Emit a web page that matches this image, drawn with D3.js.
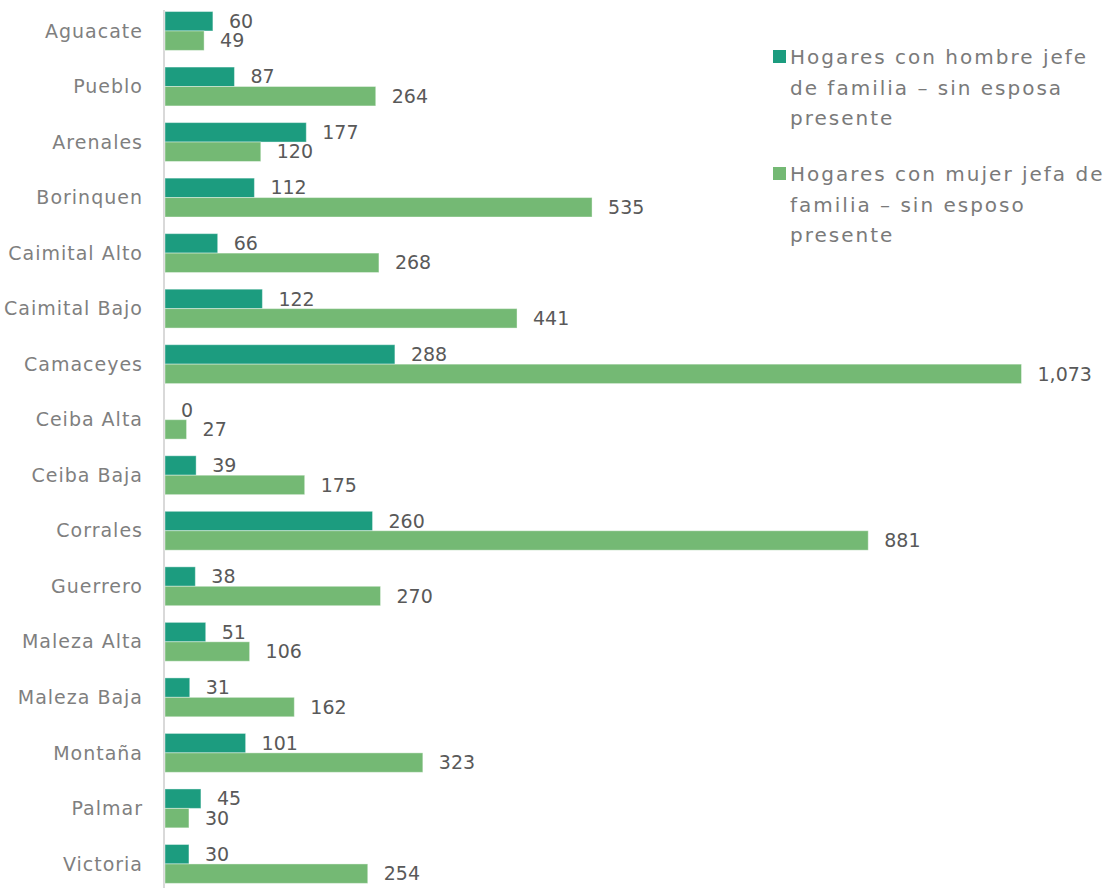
<!DOCTYPE html>
<html><head><meta charset="utf-8">
<script src="https://cdn.jsdelivr.net/npm/d3@7"></script>
<style>body{margin:0;background:#fff}svg{display:block}</style>
</head><body>
<svg id="c" width="1107" height="888"></svg>
<script>
const categories = ["Aguacate","Pueblo","Arenales","Borinquen","Caimital Alto","Caimital Bajo","Camaceyes","Ceiba Alta","Ceiba Baja","Corrales","Guerrero","Maleza Alta","Maleza Baja","Montaña","Palmar","Victoria"];
const hombre = [60,87,177,112,66,122,288,0,39,260,38,51,31,101,45,30];
const mujer = [49,264,120,535,268,441,1073,27,175,881,270,106,162,323,30,254];
const seriesNames = [["Hogares con hombre jefe","de familia – sin esposa","presente"],["Hogares con mujer jefa de","familia – sin esposo","presente"]];
const colors = ["#1c9c7f","#74b974"];

const font = "'DejaVu Sans', sans-serif";
const svg = d3.select("#c");
const y = d3.scaleBand().domain(categories).range([3.2, 891.7]).paddingInner(0.3).paddingOuter(0.15);
const x = d3.scaleLinear().domain([0,1073]).range([165,1021.5]);
const sub = d3.scaleBand().domain([0,1]).range([0, y.bandwidth()]);
const fmt = d3.format(",");
const series = [hombre, mujer];

// axis line
svg.append("line").attr("x1",164).attr("x2",164).attr("y1",10).attr("y2",888)
  .attr("stroke","#d9d9d9").attr("stroke-width",2);

// category labels
svg.append("g").selectAll("text").data(categories).join("text")
  .attr("x",143).attr("y",d=>y(d)+y.bandwidth()/2).attr("dy","0.35em")
  .attr("text-anchor","end").attr("fill","#7f7f7f")
  .style("font-family",font).style("font-size","19px").style("letter-spacing","1px").text(d=>d);

series.forEach((vals,si)=>{
  const g = svg.append("g");
  g.selectAll("rect").data(vals).join("rect")
    .attr("x",x(0)).attr("y",(d,i)=>y(categories[i])+sub(si))
    .attr("width",d=>x(d)-x(0)).attr("height",sub.bandwidth())
    .attr("fill",colors[si]).attr("stroke","#ffffff").attr("stroke-opacity",0.4).attr("stroke-width",1);
  g.selectAll("text").data(vals).join("text")
    .attr("x",d=>x(d)+16).attr("y",(d,i)=>y(categories[i])+sub(si)+sub.bandwidth()/2).attr("dy","0.35em")
    .attr("fill","#595959").style("font-family",font).style("font-size","19px").text(d=>fmt(d));
});

// legend
const legY = [57,174];
seriesNames.forEach((lines,si)=>{
  svg.append("rect").attr("x",773).attr("y",legY[si]-7).attr("width",13).attr("height",13).attr("fill",colors[si]);
  lines.forEach((t,li)=>{
    svg.append("text").attr("x",790).attr("y",legY[si]+li*30.5).attr("dy","0.35em")
      .attr("fill","#7a7a7a").style("font-family",font).style("font-size","20px").style("letter-spacing","2px").text(t);
  });
});
</script>
</body></html>
